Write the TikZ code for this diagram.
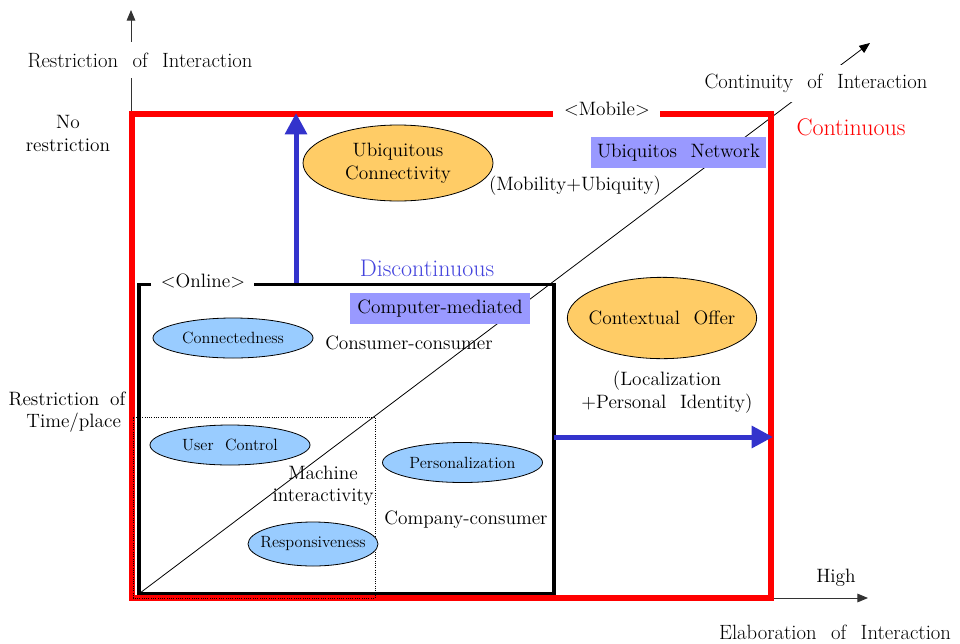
\documentclass[tikz,border=0pt]{standalone}
\usetikzlibrary{arrows.meta,shapes.geometric}
\definecolor{myred}{HTML}{FF0000}
\definecolor{myblue}{HTML}{3333CC}
\definecolor{disc}{HTML}{4444DD}
\definecolor{purp}{HTML}{9999FF}
\definecolor{lblue}{HTML}{99CCFF}
\definecolor{orng}{HTML}{FFCC66}
\newcommand{\fsz}[2]{\fontsize{#1pt}{#2pt}\selectfont\spaceskip=0.7em\relax}
\newcommand{\fszn}[2]{\fontsize{#1pt}{#2pt}\selectfont\spaceskip=0.55em\relax}
\newcommand{\ctr}[1]{\makebox[0pt]{#1}}
\begin{document}
\begin{tikzpicture}[x=0.75pt,y=-0.75pt,
  txt/.style={font=\fsz{14.5}{16.8}, inner sep=1pt, align=center, text=black},
  axlbl/.style={font=\fsz{15.5}{18}, fill=white, inner sep=0pt, minimum height=27pt, text=black},
  bigl/.style={font=\fsz{18}{20}, inner sep=1pt},
  bell/.style={ellipse, draw=black, line width=0.6pt, fill=lblue, font=\fsz{12.2}{14}, inner sep=0pt, minimum width=120pt, minimum height=30pt},
  oell/.style={ellipse, draw=black, line width=0.6pt, fill=orng, font=\fsz{14.5}{17}, align=center, inner sep=0pt},
  tagbox/.style={fill=purp, font=\fsz{14.5}{16}, inner sep=0pt, minimum height=23pt},
  thinax/.style={line width=0.75pt, draw=black!80, -{Triangle[length=8pt,width=6.5pt]}},
  redbox/.style={line width=4pt, draw=myred, line join=miter},
  blkbox/.style={line width=2.6pt, draw=black, line join=miter},
  bluearr/.style={line width=3.75pt, draw=myblue, -{Triangle[length=16pt,width=16pt]}, fill=myblue}
]
\useasboundingbox (0,0) rectangle (960,643);

% coordinates
\coordinate (ya0) at (131,111);
\coordinate (ya1) at (131,10);
\coordinate (d0) at (140,593);
\coordinate (d1) at (870,43);
\coordinate (xa0) at (771,598);
\coordinate (xa1) at (868,598);
\coordinate (rg0) at (553,114);
\coordinate (rtl) at (132,114);
\coordinate (rbl) at (132,598);
\coordinate (rbr) at (771,598);
\coordinate (rtr) at (771,114);
\coordinate (rg1) at (660,114);
\coordinate (bg0) at (151,284.5);
\coordinate (btl) at (139,284.5);
\coordinate (bbl) at (139,593.5);
\coordinate (bbr) at (554,593.5);
\coordinate (btr) at (554,284.5);
\coordinate (bg1) at (254,284.5);
\coordinate (bu0) at (296,283);
\coordinate (bu1) at (296,113);
\coordinate (br0) at (554,437);
\coordinate (br1) at (773,437);

% axes and diagonal
\draw[thinax] (ya0) -- (ya1);
\draw[thinax] (xa0) -- (xa1);
\draw[line width=0.6pt, draw=black, -{Triangle[length=8pt,width=6.5pt]}] (d0) -- (d1);

% boxes
\draw[redbox] (rg0) -- (rtl) -- (rbl) -- (rbr) -- (rtr) -- (rg1);
\draw[blkbox] (bg0) -- (btl) -- (bbl) -- (bbr) -- (btr) -- (bg1);
\draw[line width=0.7pt, densely dotted] (133,598) rectangle (375,417);

% blue arrows
\draw[bluearr] (bu0) -- (bu1);
\draw[bluearr] (br0) -- (br1);

% labels
\node[axlbl] (ylab) at (140,60) {Restriction of Interaction};
\node[axlbl, minimum height=28pt] (clab) at (816,83.5) {Continuity of Interaction};
\node[axlbl] (xlab) at (835,632) {Elaboration of Interaction};
\node[txt] (norestr) at (68,133.5) {No\\restriction};
\node[txt, font={\fszn{14.5}{16.8}}] (rtp) at (67,412) {Restriction of\\\hspace*{10pt}Time/place};
\node[txt] (high) at (836,578) {High};
\node[txt] (mobile) at (607,109) {<Mobile>};
\node[txt] (online) at (203,281) {<Online>};
\node[bigl, text=myred] (contin) at (851,127) {Continuous};
\node[bigl, text=disc] (discon) at (427,268) {Discontinuous};

\node[tagbox, minimum width=131pt] (un) at (678.5,152.5) {Ubiquitos Network};
\node[tagbox, minimum width=135pt] (cm) at (440,308.5) {Computer-mediated};

\node[oell, minimum width=142.5pt, minimum height=57pt] (uc) at (398,163) {Ubiquitous\\Connectivity};
\node[oell, minimum width=142pt, minimum height=61pt] (co) at (662,318) {\ctr{Contextual Offer}};
\node[txt] (mob) at (575,186) {(Mobility+Ubiquity)};
\node[txt] (loc) at (667,392) {(Localization\\+Personal Identity)};

\node[bell] (conn) at (233,338) {\ctr{Connectedness}};
\node[bell] (uctl) at (230,445) {\ctr{User Control}};
\node[bell] (pers) at (462.5,462.5) {\ctr{Personalization}};
\node[bell, minimum width=97.5pt, minimum height=33pt] (resp) at (313,544) {\ctr{Responsiveness}};

\node[txt] (ccons) at (409,343) {Consumer-consumer};
\node[txt] (mi) at (323,486) {Machine\\interactivity};
\node[txt] (compc) at (466,520) {Company-consumer};
\end{tikzpicture}
\end{document}
